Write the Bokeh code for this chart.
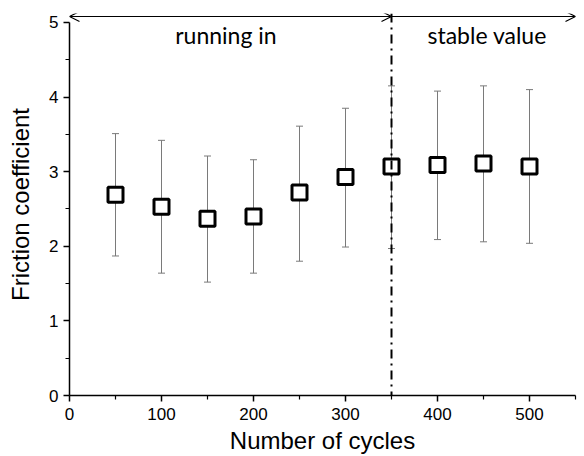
from bokeh.plotting import figure
from bokeh.models import (Range1d, FixedTicker, Whisker, TeeHead, ColumnDataSource,
                          Arrow, OpenHead, Span, Label)
from bokeh.embed import file_html
from bokeh.resources import INLINE

cycles = [50, 100, 150, 200, 250, 300, 350, 400, 450, 500]
friction = [2.69, 2.53, 2.37, 2.40, 2.72, 2.93, 3.07, 3.09, 3.11, 3.07]
err_low = [1.87, 1.64, 1.52, 1.64, 1.80, 1.99, 1.97, 2.09, 2.06, 2.04]
err_high = [3.51, 3.42, 3.21, 3.16, 3.61, 3.85, 4.15, 4.08, 4.15, 4.10]
x_ticks = [0, 100, 200, 300, 400, 500]
y_ticks = [0, 1, 2, 3, 4, 5]
boundary = 350
phase_labels = ["running in", "stable value"]
phase_label_x = [170, 454]

src = ColumnDataSource(dict(x=cycles, y=friction, lo=err_low, hi=err_high))

p = figure(width=584, height=456, output_backend="svg", toolbar_location=None,
           x_range=Range1d(0, 550), y_range=Range1d(0, 5.12),
           min_border_left=69, min_border_right=9, min_border_top=13, min_border_bottom=60)
p.outline_line_color = None
p.xgrid.visible = False
p.ygrid.visible = False

for ax in (p.xaxis[0], p.yaxis[0]):
    ax.axis_line_width = 1.5
    ax.major_tick_line_width = 1.5
    ax.minor_tick_line_width = 1.2
    ax.major_tick_out = 6
    ax.major_tick_in = 0
    ax.minor_tick_out = 4
    ax.minor_tick_in = 0
    ax.major_label_text_font = "Liberation Sans"
    ax.major_label_text_font_size = "17px"
    ax.major_label_text_color = "black"
    ax.axis_label_text_font = "Liberation Sans"
    ax.axis_label_text_font_size = "24px"
    ax.axis_label_text_font_style = "normal"
    ax.axis_label_text_color = "black"

p.xaxis.ticker = FixedTicker(ticks=x_ticks, minor_ticks=[50, 150, 250, 350, 450, 550])
p.yaxis.ticker = FixedTicker(ticks=y_ticks, minor_ticks=[0.5, 1.5, 2.5, 3.5, 4.5])
p.yaxis.bounds = (0, 5)
p.xaxis.axis_label = "Number of cycles"
p.yaxis.axis_label = "Friction coefficient"
p.xaxis.major_label_standoff = 6
p.yaxis.major_label_standoff = 5
p.xaxis.axis_label_standoff = 4
p.yaxis.axis_label_standoff = 12

wh = Whisker(base="x", lower="lo", upper="hi", source=src, line_color="#7a7a7a", line_width=1,
             upper_head=TeeHead(size=7, line_color="#7a7a7a", line_width=1),
             lower_head=TeeHead(size=7, line_color="#7a7a7a", line_width=1))
p.add_layout(wh)

p.add_layout(Span(location=boundary, dimension="height", line_color="black",
                  line_width=2, line_dash="9 5 2 5"))

p.scatter("x", "y", source=src, marker="square", size=15, line_color="black",
          line_width=3, fill_color="white")

arrow_y = 5.08
p.add_layout(Arrow(x_start=0, y_start=arrow_y, x_end=boundary, y_end=arrow_y,
                   start=OpenHead(size=10, line_width=1.2), end=OpenHead(size=10, line_width=1.2),
                   line_width=1.2))
p.add_layout(Arrow(x_start=boundary, y_start=arrow_y, x_end=550, y_end=arrow_y,
                   end=OpenHead(size=10, line_width=1.2), line_width=1.2))

for t, xx in zip(phase_labels, phase_label_x):
    p.add_layout(Label(x=xx, y=4.83, text=t, text_align="center", text_baseline="middle",
                       text_font="Lato", text_font_size="23px", text_color="black"))

open("out.html", "w").write(file_html(p, INLINE))
